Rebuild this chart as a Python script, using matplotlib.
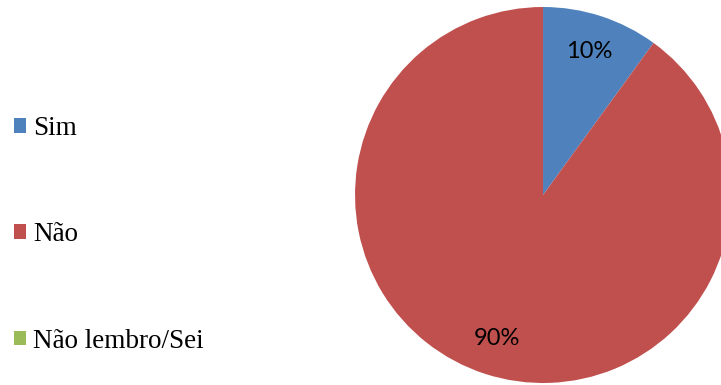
"""
pie chart of the answers to the yes/no question, legend on the left
"""

import matplotlib

matplotlib.use("Agg")
import matplotlib.pyplot as plt
from matplotlib.patches import Patch

answers = ["Sim", "Não", "Não lembro/Sei"]
shares = [10, 90, 0]
colors = ["#4F81BD", "#C0504D", "#9BBB59"]


def pct_label(pct):
    # no label for empty slices
    return f"{pct:.0f}%" if pct > 0.5 else ""


fig = plt.figure(figsize=(7.21, 3.85), dpi=100)

# the pie is bigger than its half of the figure, so the right edge gets cut off
ax = fig.add_axes([0.4924, 0.0052, 0.5215, 0.9766])
wedges, texts, pcts = ax.pie(
    shares,
    colors=colors,
    startangle=90,
    counterclock=False,
    radius=1.0,
    autopct=pct_label,
    pctdistance=0.8,
    textprops={"family": "Lato", "fontsize": 17, "color": "black"},
)
ax.set_xlim(-1, 1)
ax.set_ylim(-1, 1)
ax.set_aspect("equal")
ax.axis("off")

handles = [Patch(facecolor=c, edgecolor="none") for c in colors]
fig.legend(
    handles,
    answers,
    loc="center left",
    bbox_to_anchor=(0.019, 0.39),
    frameon=False,
    borderpad=0,
    borderaxespad=0,
    prop={"family": "Liberation Serif", "size": 19.5},
    handlelength=0.45,
    handleheight=0.45,
    handletextpad=0.26,
    labelspacing=3.0,
)

fig.savefig("out.png", dpi=100)
